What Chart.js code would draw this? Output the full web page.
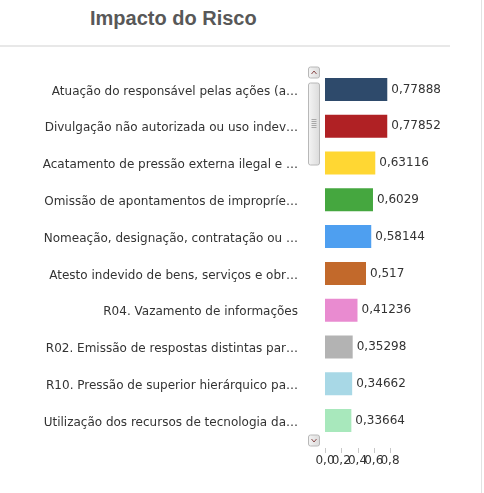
<!DOCTYPE html>
<html>
<head>
<meta charset="utf-8">
<script src="https://cdn.jsdelivr.net/npm/chart.js@4"></script>
<style>
  html, body { margin: 0; padding: 0; background: #fff; }
  #wrap { position: relative; width: 484px; height: 493px; overflow: hidden; }
  #title {
    position: absolute; left: 90px; top: 7px;
    font: bold 20px "Liberation Sans", Arial, sans-serif; color: #585858;
  }
  #rule { position: absolute; left: 0; top: 45px; width: 450px; height: 2px; background: #e8e8e8; }
  #edge { position: absolute; left: 481px; top: 0; width: 1px; height: 493px; background: #e2e2e2; }
  canvas { position: absolute; left: 0; top: 0; }
</style>
</head>
<body>
<div id="wrap">
  <div id="title">Impacto do Risco</div>
  <div id="rule"></div>
  <div id="edge"></div>
  <canvas id="chart" width="484" height="493"></canvas>
</div>
<script>
// Risk labels (truncated as in the panel)
const riskLabels = [
  "Atuação do responsável pelas ações (a…",
  "Divulgação não autorizada ou uso indev…",
  "Acatamento de pressão externa ilegal e …",
  "Omissão de apontamentos de impropríe…",
  "Nomeação, designação, contratação ou …",
  "Atesto indevido de bens, serviços e obr…",
  "R04. Vazamento de informações",
  "R02. Emissão de respostas distintas par…",
  "R10. Pressão de superior hierárquico pa…",
  "Utilização dos recursos de tecnologia da…",
];
const impactValues = [0.77888, 0.77852, 0.63116, 0.6029, 0.58144, 0.517, 0.41236, 0.35298, 0.34662, 0.33664];
const barColors = ["#2e4a6b", "#b02124", "#ffd733", "#45a73f", "#4e9ff0", "#c2692b", "#e98bd0", "#b3b3b3", "#a8d8e6", "#a8e8bc"];
const xTicks = [0, 0.2, 0.4, 0.6, 0.8];

const FONT = '"DejaVu Sans", Tahoma, sans-serif';
const fmt = (v) => String(v).replace(".", ",");

// value labels next to each bar
const valueLabels = {
  id: "valueLabels",
  afterDatasetsDraw(chart) {
    const ctx = chart.ctx;
    const meta = chart.getDatasetMeta(0);
    ctx.save();
    ctx.font = "12px " + FONT;
    ctx.fillStyle = "#333";
    ctx.textBaseline = "middle";
    ctx.textAlign = "left";
    meta.data.forEach((bar, i) => {
      ctx.fillText(fmt(impactValues[i]), bar.x + 3, bar.y);
    });
    ctx.restore();
  },
};

// fake scroll bar + detached tick marks
function roundRect(ctx, x, y, w, h, r) {
  ctx.beginPath();
  ctx.moveTo(x + r, y);
  ctx.arcTo(x + w, y, x + w, y + h, r);
  ctx.arcTo(x + w, y + h, x, y + h, r);
  ctx.arcTo(x, y + h, x, y, r);
  ctx.arcTo(x, y, x + w, y, r);
  ctx.closePath();
}

const decorations = {
  id: "decorations",
  afterDraw(chart) {
    const ctx = chart.ctx;
    const area = chart.chartArea;
    const sx = area.left - 16.5;
    const sw = 11;
    ctx.save();
    const box = (y, h) => {
      const g = ctx.createLinearGradient(sx, 0, sx + sw, 0);
      g.addColorStop(0, "#f4f4f4");
      g.addColorStop(1, "#dcdcdc");
      roundRect(ctx, sx, y, sw, h, 2);
      ctx.fillStyle = g;
      ctx.fill();
      ctx.strokeStyle = "#b8b8b8";
      ctx.lineWidth = 1;
      ctx.stroke();
    };
    // up arrow
    box(area.top - 4, 11);
    ctx.strokeStyle = "#8a4a4a";
    ctx.beginPath();
    ctx.moveTo(sx + 3, area.top + 3);
    ctx.lineTo(sx + 5.5, area.top);
    ctx.lineTo(sx + 8, area.top + 3);
    ctx.stroke();
    // thumb
    box(area.top + 12, 82);
    ctx.strokeStyle = "#a8a8a8";
    for (let k = 0; k < 5; k++) {
      const y = area.top + 48 + k * 2 + 0.5;
      ctx.beginPath();
      ctx.moveTo(sx + 3, y);
      ctx.lineTo(sx + 8, y);
      ctx.stroke();
    }
    // down arrow
    const dy = area.bottom - 4;
    box(dy, 11);
    ctx.strokeStyle = "#8a4a4a";
    ctx.beginPath();
    ctx.moveTo(sx + 3, dy + 4);
    ctx.lineTo(sx + 5.5, dy + 7);
    ctx.lineTo(sx + 8, dy + 4);
    ctx.stroke();

    // tick marks under the plot
    const xs = chart.scales.x;
    ctx.strokeStyle = "#c8c8c8";
    xTicks.forEach((t) => {
      const px = Math.round(xs.getPixelForValue(t)) + 0.5;
      ctx.beginPath();
      ctx.moveTo(px, area.bottom + 9);
      ctx.lineTo(px, area.bottom + 14);
      ctx.stroke();
    });
    ctx.restore();
  },
};

new Chart(document.getElementById("chart"), {
  type: "bar",
  data: {
    labels: riskLabels,
    datasets: [
      {
        data: impactValues,
        backgroundColor: barColors,
        borderColor: "rgba(255,255,255,0.35)",
        borderWidth: 1,
        categoryPercentage: 1,
        barPercentage: 0.68,
      },
    ],
  },
  options: {
    indexAxis: "y",
    responsive: false,
    animation: false,
    layout: { padding: { left: 0, top: 71, right: 94, bottom: 24 } },
    plugins: {
      legend: { display: false },
      title: { display: false },
      tooltip: { enabled: false },
    },
    scales: {
      x: {
        min: 0,
        max: 0.8,
        afterBuildTicks: (scale) => {
          scale.ticks = xTicks.map((v) => ({ value: v }));
        },
        afterFit: (scale) => {
          scale.height = 30;
        },
        grid: { display: false, drawTicks: false },
        border: { display: false },
        ticks: {
          autoSkip: false,
          maxRotation: 0,
          padding: 15,
          color: "#333",
          font: { family: FONT, size: 12 },
          callback: (v) => Number(v).toFixed(1).replace(".", ","),
        },
      },
      y: {
        afterFit: (scale) => {
          scale.width = 325;
        },
        grid: { display: false, drawTicks: false },
        border: { display: false },
        ticks: {
          padding: 27,
          labelOffset: 2,
          color: "#333",
          font: { family: FONT, size: 12 },
        },
      },
    },
  },
  plugins: [valueLabels, decorations],
});
</script>
</body>
</html>
